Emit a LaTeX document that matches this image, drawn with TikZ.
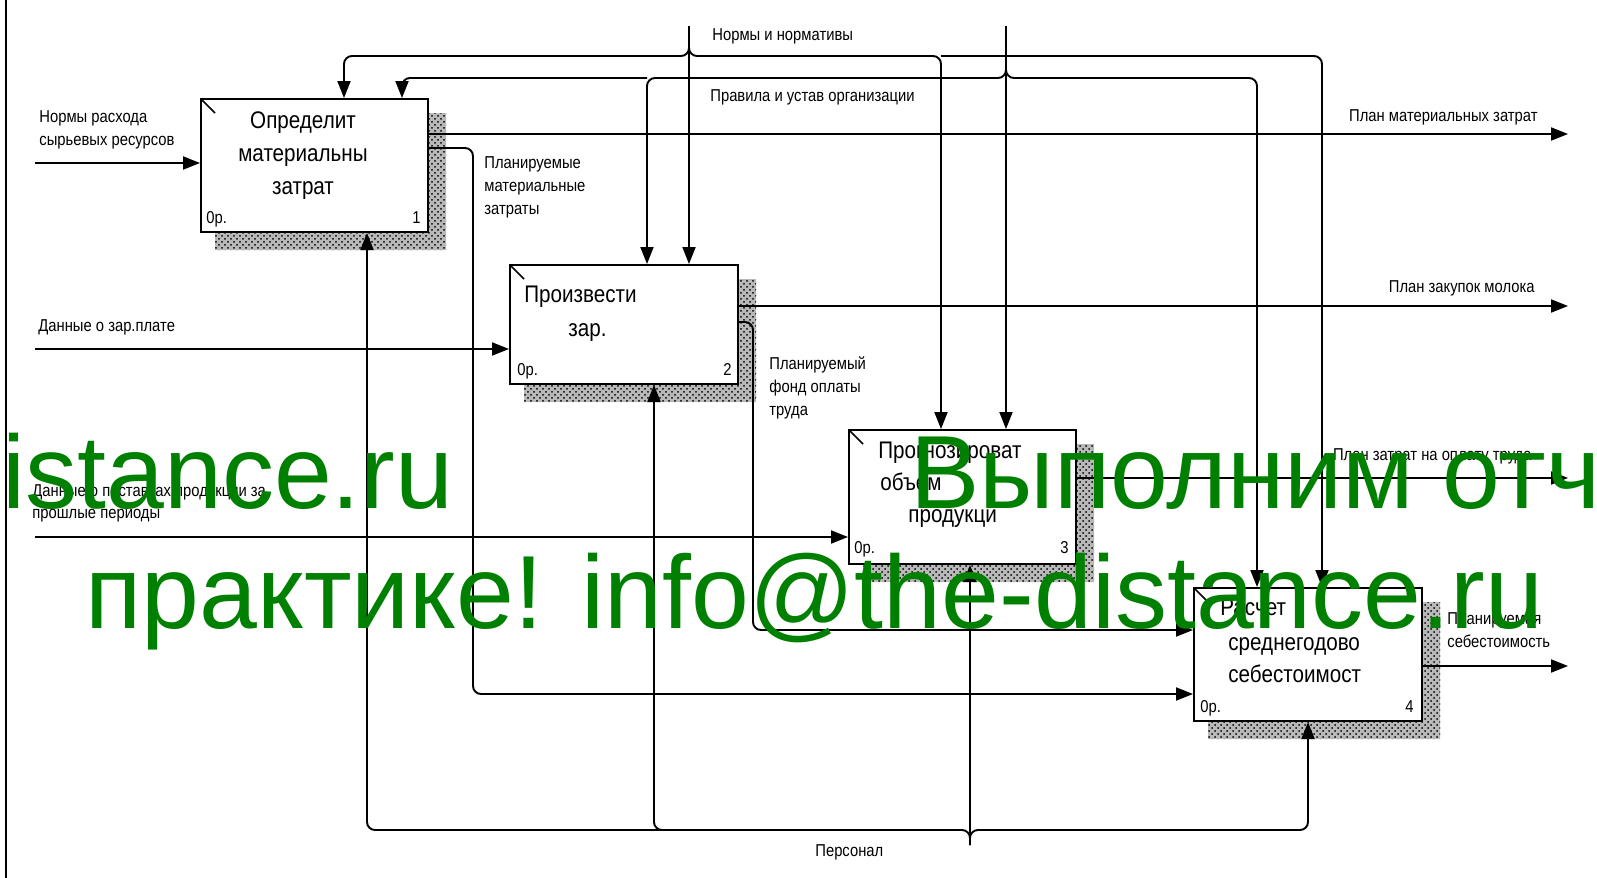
\documentclass[tikz,border=0pt]{standalone}
\usepackage{fontspec}
\setmainfont[FakeStretch=0.86]{Liberation Sans}
\newfontfamily\wmfont{Liberation Sans}
\usetikzlibrary{arrows.meta,patterns}
\definecolor{wmgreen}{RGB}{0,128,0}
\tikzset{
  idefbox/.style={draw, line width=1pt, fill=white, rectangle, inner sep=0pt, anchor=north west,
    path picture={\draw[line width=0.8pt] (path picture bounding box.north west) -- ++(7pt,-7pt);}},
  conn/.style={line width=0.95pt, rounded corners=4pt},
  arr/.style={conn, -{Triangle[length=8.5pt,width=6.5pt]}},
  lbl/.style={inner sep=0pt, anchor=base west, font=\fontsize{8.6}{10}\selectfont},
  lblr/.style={lbl, anchor=base east},
  ttl/.style={inner sep=0pt, anchor=base west, font=\fontsize{12}{14}\selectfont},
  ttlc/.style={ttl, anchor=base},
  wm/.style={inner sep=0pt, anchor=base west, text=wmgreen, font=\wmfont\fontsize{52}{60}\selectfont},
  shadowfill/.style={fill=gray!55, postaction={pattern=crosshatch dots, pattern color=black}}
}
\newcommand\idefshadow[1]{%
  \fill[shadowfill] ([yshift=-7.5pt]#1.north east) -- ++(8.5pt,0) |- ([xshift=7.5pt,yshift=-8.5pt]#1.south west)
    -- ([xshift=7.5pt]#1.south west) -- (#1.south east) -- cycle;}
\begin{document}
\begin{tikzpicture}[x=0.5pt,y=-0.5pt]
\useasboundingbox (0,0) rectangle (1597,878);
\begin{scope}
\clip (0,0) rectangle (1597,878);
% frame
\draw[line width=1pt] (6,0) -- (6,878);

% boxes
\node[idefbox, minimum width=113.5pt, minimum height=66.5pt] (b1) at (200,98) {};
\node[idefbox, minimum width=114pt, minimum height=59.5pt] (b2) at (509,264) {};
\node[idefbox, minimum width=113.5pt, minimum height=67pt] (b3) at (848,429) {};
\node[idefbox, minimum width=114pt, minimum height=66.5pt] (b4) at (1193,587) {};
\idefshadow{b1}
\idefshadow{b2}
\idefshadow{b3}
\idefshadow{b4}

% box texts
\node[ttlc] (t1a) at (303,128) {Определит};
\node[ttlc] (t1b) at (303,161) {материальны};
\node[ttlc] (t1c) at (303,194) {затрат};
\node[lbl] (c1) at (206,223) {0р.};
\node[lblr] (n1) at (421,223) {1};

\node[ttl] (t2a) at (524,302) {Произвести};
\node[ttl] (t2b) at (568,336) {зар.};
\node[lbl] (c2) at (517,375) {0р.};
\node[lblr] (n2) at (732,375) {2};

\node[ttl] (t3a) at (878,458) {Прогнозироват};
\node[ttl] (t3b) at (880,490) {объем};
\node[ttl] (t3c) at (908,522) {продукци};
\node[lbl] (c3) at (854,553) {0р.};
\node[lblr] (n3) at (1069,553) {3};

\node[ttl] (t4a) at (1220,615) {Расчет};
\node[ttl] (t4b) at (1228,650) {среднегодово};
\node[ttl] (t4c) at (1228,682) {себестоимост};
\node[lbl] (c4) at (1200,712) {0р.};
\node[lblr] (n4) at (1414,712) {4};

% free ends
\coordinate (nsrc) at (689,26);
\coordinate (rsrc) at (1006,26);
\coordinate (psrc) at (970,845);
\coordinate (i1) at (35,163);
\coordinate (i2) at (35,349);
\coordinate (i3) at (35,537);
\coordinate (o1) at (1568,134);
\coordinate (o2) at (1568,306);
\coordinate (o3) at (1568,478);
\coordinate (o4) at (1568,666);

% controls: Нормы и нормативы
\draw[arr] (nsrc) |- (344,56) -- (344,0 |- b1.north);
\draw[arr] (nsrc) -- (689,0 |- b2.north);
\draw[arr] (nsrc) |- (941,56) -- (941,0 |- b3.north);
\draw[arr] (941,56) -| (1322,0 |- b4.north);
% controls: Правила и устав организации
\draw[arr] (rsrc) |- (647,78) -- (647,0 |- b2.north);
\draw[arr] (647,78) -| (402,0 |- b1.north);
\draw[arr] (rsrc) |- (1257,78) -- (1257,0 |- b4.north);
\draw[arr] (rsrc) -- (1006,0 |- b3.north);

% mechanisms: Персонал
\draw[arr] (psrc) |- (367,830) -- (367,0 |- b1.south);
\draw[arr] (720,830) -| (654,0 |- b2.south);
\draw[arr] (psrc) |- (1308,830) -- (1308,0 |- b4.south);
\draw[arr] (psrc) -- (970,0 |- b3.south);

% inputs
\draw[arr] (i1) -- (b1.west |- i1);
\draw[arr] (i2) -- (b2.west |- i2);
\draw[arr] (i3) -- (b3.west |- i3);

% outputs
\draw[arr] (b1.east |- o1) -- (o1);
\draw[arr] (b1.east |- 0,148) -| (473,694) -- (b4.west |- 0,694);
\draw[arr] (b2.east |- o2) -- (o2);
\draw[arr] (b2.east |- 0,322) -| (753,630) -- (b4.west |- 0,630);
\draw[arr] (b3.east |- o3) -- (o3);
\draw[arr] (b4.east |- o4) -- (o4);

% labels
\node[lbl] (l1a) at (39,122) {Нормы расхода};
\node[lbl] (l1b) at (39,145) {сырьевых ресурсов};
\node[lbl] (l2) at (38,331) {Данные о зар.плате};
\node[lbl] (l3a) at (32,496) {Данные о поставках продукции за};
\node[lbl] (l3b) at (32,518) {прошлые периоды};
\node[lbl] (lnorm) at (712,40) {Нормы и нормативы};
\node[lbl] (lrule) at (710,101) {Правила и устав организации};
\node[lblr] (lo1) at (1538,121) {План материальных затрат};
\node[lblr] (lo2) at (1535,292) {План закупок молока};
\node[lblr] (lo3) at (1532,460) {План затрат на оплату труда};
\node[lbl] (lm1a) at (484,168) {Планируемые};
\node[lbl] (lm1b) at (484,191) {материальные};
\node[lbl] (lm1c) at (484,214) {затраты};
\node[lbl] (lf1a) at (769,369) {Планируемый};
\node[lbl] (lf1b) at (769,392) {фонд оплаты};
\node[lbl] (lf1c) at (769,415) {труда};
\node[lbl] (lo4a) at (1447,624) {Планируемая};
\node[lbl] (lo4b) at (1447,647) {себестоимость};
\node[lbl] (lpers) at (815,856) {Персонал};

% watermark
\node[wm] (w1) at (2,508) {istance.ru};
\node[wm] (w2) at (910,508) {Выполним отч};
\node[wm] (w3) at (85,628) {практике! info@the-distance.ru};
\end{scope}
\end{tikzpicture}
\end{document}
